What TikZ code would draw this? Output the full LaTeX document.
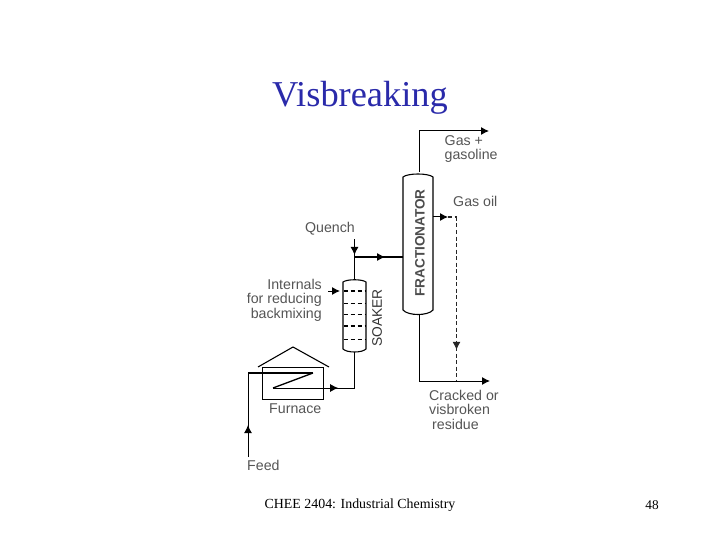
\documentclass[tikz,border=0pt]{standalone}
\usepackage{fontspec}
\setmainfont{Liberation Serif}
\newfontfamily\labelfont{Liberation Sans}
\usetikzlibrary{arrows.meta,decorations.markings}
\definecolor{TitleColor}{RGB}{42,42,170}
\definecolor{LabelColor}{RGB}{85,85,85}
\tikzset{
  pipe/.style={line width=1pt, draw=black},
  heavypipe/.style={line width=1.6pt, draw=black},
  dashpipe/.style={line width=1.8pt, draw=black!85, dash pattern=on 4pt off 2.5pt},
  vessel/.style={line width=1.1pt, draw=black},
  midarrow/.style={postaction={decorate}, decoration={markings, mark=at position #1 with {\arrow[line width=1pt, solid]{Latex[length=8pt,width=8pt]}}}},
  flowlabel/.style={font=\labelfont\fontsize{14.2}{14.5}\selectfont, text=LabelColor, align=#1, inner sep=0pt},
  flowlabel/.default=left,
  tagarrow/.style={-{Latex[length=8pt,width=8pt]}},
}
\begin{document}
\begin{tikzpicture}[x=1pt, y=-1pt]
    \useasboundingbox (0,0) rectangle (720,540);
    \node[font=\fontsize{36.4}{40}\selectfont, text=TitleColor, inner sep=0pt] (title) at (360,98) {Visbreaking};
    \node[font=\fontsize{13.9}{15}\selectfont, inner sep=0pt] (footer) at (360,505) {CHEE 2404: Industrial Chemistry};
    \node[font=\fontsize{13.3}{15}\selectfont, inner sep=0pt] (pageno) at (652,505) {48};

    \coordinate (fractTop) at (419.5,172);
    \coordinate (fractBot) at (419.5,315);
    \coordinate (fractFeed) at (403,257);
    \coordinate (fractSide) at (433,217);
    \coordinate (soakTop) at (354.5,280);
    \coordinate (soakBot) at (354.5,352);
    \coordinate (quenchIn) at (354.5,239);
    \coordinate (quenchTee) at (354.5,257);
    \coordinate (gasBend) at (419.5,131);
    \coordinate (gasOut) at (489,131);
    \coordinate (oilStub) at (448,217);
    \coordinate (oilBend) at (456.5,217);
    \coordinate (resBend) at (419.5,381);
    \coordinate (oilJoin) at (456.5,381);
    \coordinate (resOut) at (490,381);
    \coordinate (feedIn) at (248,457);
    \coordinate (feedBend) at (248,373);
    \coordinate (coilA) at (313,373);
    \coordinate (coilB) at (273,388);
    \coordinate (coilOut) at (354.5,388);
    \coordinate (tagStart) at (328,291);
    \coordinate (tagEnd) at (340,291);

    \draw[vessel] (403,177) .. controls (408,173) and (428,173) .. (433,177)
      -- (433,310) .. controls (428,316) and (408,316) .. (403,310) -- cycle;
    \draw[vessel] (343,282) .. controls (347,279) and (362,279) .. (366,282)
      -- (366,349) .. controls (362,353) and (347,353) .. (343,349) -- cycle;
    \foreach \y/\wt in {291/1.4,303/0.7,314/0.7,326/1.4,339/0.7} {
      \draw[line width=\wt pt, dash pattern=on 4.5pt off 2.5pt] (343.5,\y)--(366,\y);
    }

    \draw[pipe, tagarrow] (fractTop)--(gasBend)--(gasOut);
    \draw[pipe, midarrow=0.39] (quenchIn)--(soakTop);
    \draw[heavypipe, midarrow=0.63] (quenchTee)--(fractFeed);
    \draw[pipe, tagarrow] (fractSide)--(oilStub);
    \draw[dashpipe] (oilStub)--(oilBend);
    \draw[dashpipe, midarrow=0.81] (oilBend)--(oilJoin);
    \draw[pipe, tagarrow] (fractBot)--(resBend)--(resOut);
    \draw[pipe, tagarrow] (tagStart)--(tagEnd);

    \draw[line width=0.9pt] (262,367) rectangle (323,399);
    \draw[vessel] (258,367)--(293,347)--(329,367);
    \draw[pipe, midarrow=0.38] (feedIn)--(feedBend);
    \draw[heavypipe] (feedBend)--(coilA);
    \draw[pipe, line width=1.3pt] (coilA)--(coilB);
    \draw[pipe, midarrow=0.8] (coilB)--(coilOut);
    \draw[pipe] (coilOut)--(soakBot);

    \node[flowlabel, anchor=west] (gasLabel) at (444.5,149) {Gas +\\gasoline};
    \node[flowlabel, anchor=west] (oilLabel) at (453,201.5) {Gas oil};
    \node[flowlabel, anchor=east] (quenchLabel) at (355,229) {Quench};
    \node[flowlabel=right, anchor=east] (internalsLabel) at (322,300) {Internals\\for reducing\\backmixing};
    \node[flowlabel, anchor=west] (furnaceLabel) at (269,409) {Furnace};
    \node[flowlabel, anchor=west] (feedLabel) at (247,465) {Feed};
    \node[flowlabel, anchor=west] (residueLabel) at (429,409.5) {Cracked or\\visbroken\\\hspace*{3pt}residue};
    \node[font=\labelfont\bfseries\fontsize{13.6}{15}\selectfont, text=black!70, rotate=90, inner sep=0pt] (fractLabel) at (420,243) {FRACTIONATOR};
    \node[font=\labelfont\fontsize{13.8}{15}\selectfont, text=black!80, rotate=90, inner sep=0pt] (soakLabel) at (377,318) {SOAKER};
\end{tikzpicture}
\end{document}
